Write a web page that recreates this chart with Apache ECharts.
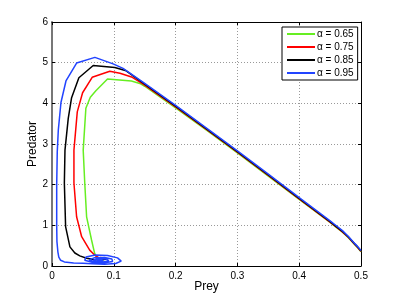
<!DOCTYPE html>
<html><head><meta charset="utf-8">
<script src="https://cdn.jsdelivr.net/npm/echarts@6/dist/echarts.min.js"></script>
<style>html,body{margin:0;padding:0;background:#fff}#c{width:399px;height:300px}</style>
</head><body><div id="c"></div>
<script>
var seriesNames = ['α = 0.65', 'α = 0.75', 'α = 0.85', 'α = 0.95'];
var xTicks = [0, 0.1, 0.2, 0.3, 0.4, 0.5];
var yTicks = [0, 1, 2, 3, 4, 5, 6];

var green = [[0.5,0.35],[0.495,0.44],[0.49,0.52],[0.48,0.69],[0.47,0.83],[0.46,0.95],[0.45,1.07],[0.4,1.64],[0.35,2.21],[0.3,2.78],[0.25,3.34],[0.2,3.89],[0.15,4.42],[0.142,4.49],[0.1285,4.55],[0.0898,4.60],[0.071,4.31],[0.062,4.15],[0.0548,3.88],[0.0505,2.85],[0.053,2.04],[0.056,1.21],[0.064,0.64],[0.069,0.31],[0.072,0.22],[0.078,0.17],[0.084,0.16],[0.083,0.19],[0.077,0.19],[0.075,0.17],[0.079,0.165]];
var red = [[0.5,0.36],[0.495,0.45],[0.49,0.53],[0.48,0.70],[0.47,0.84],[0.46,0.96],[0.45,1.08],[0.4,1.65],[0.35,2.23],[0.3,2.80],[0.25,3.36],[0.2,3.91],[0.15,4.45],[0.13,4.64],[0.11,4.74],[0.0935,4.79],[0.065,4.64],[0.0495,4.26],[0.0409,3.79],[0.0355,2.85],[0.0355,2.04],[0.0398,1.21],[0.048,0.72],[0.061,0.39],[0.069,0.27],[0.076,0.2],[0.084,0.17],[0.086,0.2],[0.079,0.21],[0.074,0.18],[0.079,0.16],[0.082,0.18]];
var black = [[0.5,0.37],[0.495,0.46],[0.49,0.54],[0.48,0.71],[0.47,0.85],[0.46,0.97],[0.45,1.09],[0.4,1.66],[0.35,2.24],[0.3,2.81],[0.25,3.37],[0.2,3.93],[0.15,4.47],[0.12,4.80],[0.1016,4.88],[0.0667,4.93],[0.0435,4.63],[0.0317,4.14],[0.0263,3.63],[0.021,2.85],[0.02,2.04],[0.022,0.97],[0.029,0.47],[0.037,0.32],[0.045,0.25],[0.056,0.19],[0.068,0.16],[0.08,0.15],[0.088,0.17],[0.082,0.2],[0.073,0.19],[0.072,0.16],[0.079,0.155],[0.08,0.17]];
var blue = [[0.5,0.38],[0.495,0.47],[0.49,0.55],[0.48,0.72],[0.47,0.87],[0.46,0.99],[0.45,1.11],[0.4,1.68],[0.35,2.26],[0.3,2.83],[0.25,3.39],[0.2,3.95],[0.15,4.49],[0.115,4.86],[0.0989,4.97],[0.0694,5.13],[0.0398,4.99],[0.0226,4.55],[0.0145,4.02],[0.0102,3.34],[0.0085,2.8],[0.0076,2.0],[0.0076,1.0],[0.008,0.6],[0.0095,0.35],[0.011,0.22],[0.014,0.14],[0.02,0.1],[0.035,0.075],[0.05,0.068],[0.065,0.055],[0.085,0.045],[0.103,0.06],[0.112,0.12],[0.106,0.2],[0.09,0.26],[0.07,0.27],[0.055,0.22],[0.053,0.14],[0.065,0.09],[0.085,0.08],[0.098,0.11],[0.097,0.17],[0.085,0.21],[0.068,0.2],[0.06,0.15],[0.068,0.11],[0.083,0.1],[0.092,0.13],[0.088,0.17],[0.075,0.18],[0.067,0.15],[0.072,0.12],[0.083,0.12],[0.086,0.15],[0.078,0.16],[0.073,0.14],[0.078,0.13],[0.081,0.14]];

var colors = ['#66ee22', '#ff0000', '#000000', '#2244ff'];
var curves = [green, red, black, blue];

var chart = echarts.init(document.getElementById('c'), null, {renderer: 'canvas'});
var font = 'Liberation Sans, Arial, sans-serif';
var innerTick = {show: true, inside: true, length: 3, lineStyle: {color: '#000', width: 1}};
chart.setOption({
  animation: false,
  backgroundColor: '#fff',
  grid: {left: 52, right: 38, top: 22, bottom: 34, containLabel: false},
  legend: {
    orient: 'vertical', left: 282, top: 27,
    data: seriesNames.map(function(n, i){ return {name: n, icon: 'rect'}; }),
    itemWidth: 28, itemHeight: 2, itemGap: 1,
    padding: [1, 4, 1, 5],
    borderColor: '#000', borderWidth: 1, backgroundColor: '#fff',
    textStyle: {fontFamily: font, fontSize: 10, color: '#000', lineHeight: 12, padding: [0,0,0,-3]}
  },
  xAxis: [{
    type: 'value', min: 0, max: 0.5, interval: 0.1,
    name: 'Prey', nameLocation: 'middle', nameGap: 15, nameMoveOverlap: false,
    nameTextStyle: {fontFamily: font, fontSize: 12, color: '#000', verticalAlign: 'top'},
    axisLine: {show: true, onZero: false, lineStyle: {color: '#000', width: 1}},
    axisTick: innerTick,
    axisLabel: {fontFamily: font, fontSize: 10, color: '#000', margin: 5,
      formatter: function(v){ return xTicks.indexOf(Math.round(v*10)/10) >= 0 ? String(Math.round(v*10)/10) : ''; }},
    splitLine: {show: true, lineStyle: {type: [1, 2], color: '#999', width: 1}}
  }, {
    type: 'value', min: 0, max: 0.5, interval: 0.1, position: 'top',
    axisLine: {show: true, onZero: false, lineStyle: {color: '#000', width: 1}},
    axisTick: innerTick, axisLabel: {show: false}, splitLine: {show: false}
  }],
  yAxis: [{
    type: 'value', min: 0, max: 6, interval: 1,
    name: 'Predator', nameLocation: 'middle', nameGap: 13, nameMoveOverlap: false,
    nameTextStyle: {fontFamily: font, fontSize: 12, color: '#000'},
    axisLine: {show: true, onZero: false, lineStyle: {color: '#777', width: 2}},
    axisTick: innerTick,
    axisLabel: {fontFamily: font, fontSize: 10, color: '#000', margin: 4},
    splitLine: {show: true, lineStyle: {type: [1, 2], color: '#999', width: 1}}
  }, {
    type: 'value', min: 0, max: 6, interval: 1, position: 'right',
    axisLine: {show: true, onZero: false, lineStyle: {color: '#000', width: 1}},
    axisTick: innerTick, axisLabel: {show: false}, splitLine: {show: false}
  }],
  series: curves.map(function(d, i){
    return {
      name: seriesNames[i], type: 'line', data: d, xAxisIndex: 0, yAxisIndex: 0,
      showSymbol: false, symbol: 'none', smooth: false, clip: true,
      color: colors[i], lineStyle: {color: colors[i], width: 1.5}
    };
  })
});
</script></body></html>
